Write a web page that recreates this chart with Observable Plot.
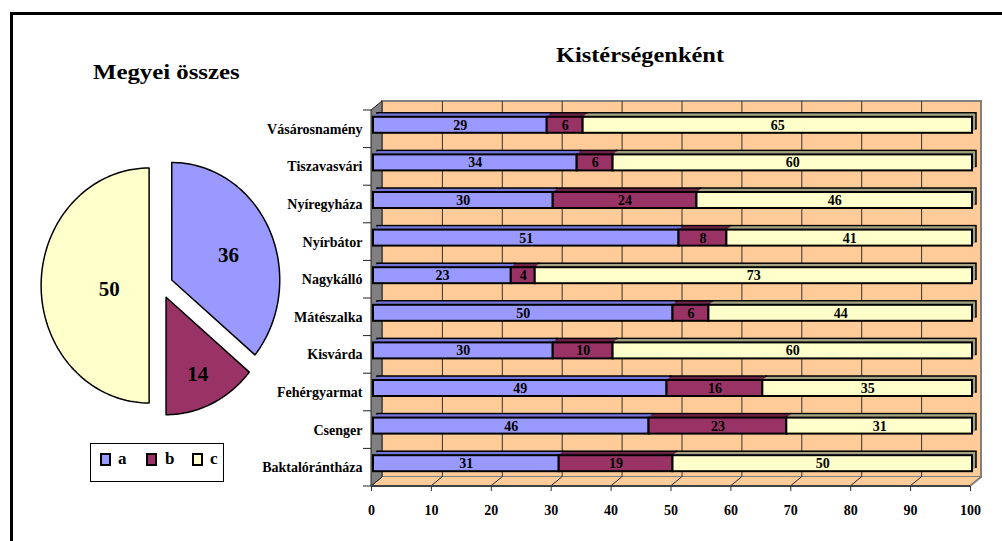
<!DOCTYPE html>
<html>
<head>
<meta charset="utf-8">
<script src="https://cdn.jsdelivr.net/npm/d3@7"></script>
<script src="https://cdn.jsdelivr.net/npm/@observablehq/plot@0.6"></script>
<style>
html, body { margin: 0; padding: 0; background: #fff; }
#root { position: relative; width: 1002px; height: 541px; overflow: hidden; background: #fff;
  font-family: "Liberation Serif", "Times New Roman", serif; color: #000; }
.abs { position: absolute; }
.title { font-weight: bold; font-size: 20px; line-height: 20px; white-space: nowrap; }
.sw { position: absolute; width: 7px; height: 9px; border: 2px solid #000; }
.lt { position: absolute; font-weight: bold; font-size: 17px; line-height: 17px; }
</style>
</head>
<body>
<div id="root"></div>
<script>
// ---------------- data ----------------
const categories = ["Vásárosnamény", "Tiszavasvári", "Nyíregyháza", "Nyírbátor", "Nagykálló",
  "Mátészalka", "Kisvárda", "Fehérgyarmat", "Csenger", "Baktalórántháza"];
const seriesKeys = ["a", "b", "c"];
const valuesA = [29, 34, 30, 51, 23, 50, 30, 49, 46, 31];
const valuesB = [6, 6, 24, 8, 4, 6, 10, 16, 23, 19];
const valuesC = [65, 60, 46, 41, 73, 44, 60, 35, 31, 50];
const pieValues = [36, 14, 50];
const xTicks = [0, 10, 20, 30, 40, 50, 60, 70, 80, 90, 100];
const titlePie = "Megyei összes";
const titleBars = "Kistérségenként";

// ---------------- styles ----------------
const colors = {a: "#9999FF", b: "#993366", c: "#FFFFCC"};
const shades = {a: "#7474D8", b: "#6A2448", c: "#A3A384"};
const FONT = "Liberation Serif, Times New Roman, serif";

const root = document.getElementById("root");

// outer frame
const frameDiv = document.createElement("div");
frameDiv.className = "abs";
Object.assign(frameDiv.style, {left: "10px", top: "12px", width: "1100px", height: "700px",
  border: "3px solid #000", boxSizing: "border-box"});
root.appendChild(frameDiv);

// ---------------- bar chart ----------------
const series = {a: valuesA, b: valuesB, c: valuesC};
const rows = [];
categories.forEach((cat, i) => {
  let acc = 0;
  for (const k of seriesKeys) {
    const v = series[k][i];
    rows.push({cat, key: k, value: v, x1: acc, x2: acc + v});
    acc += v;
  }
});

const DX = 11, DY = -9;       // depth of the 3D box
const BX = 2, BY = -4;        // bars sit a little inside the box
const DEPTH = 4, INSET = 10.8;

function backWall(index, scales, values, dims) {
  const x = scales.x;
  const l = x(0), r = x(100), t = dims.marginTop, b = dims.height - dims.marginBottom;
  return d3.create("svg:rect")
    .attr("x", l + DX).attr("y", t + DY).attr("width", r - l).attr("height", b - t)
    .attr("fill", "#FFCC99").attr("stroke", "#808080").attr("stroke-width", 2).node();
}

function floorAndSide(index, scales, values, dims) {
  const x = scales.x;
  const l = x(0), r = x(100), t = dims.marginTop, b = dims.height - dims.marginBottom;
  const g = d3.create("svg:g");
  g.append("path").attr("d", `M${l},${b}L${r},${b}L${r + DX},${b + DY}L${l + DX},${b + DY}Z`)
    .attr("fill", "#FFCC99");
  for (const v of xTicks) {
    g.append("line").attr("x1", x(v)).attr("y1", b).attr("x2", x(v) + DX).attr("y2", b + DY)
      .attr("stroke", "#222").attr("stroke-width", 1);
  }
  g.append("line").attr("x1", r).attr("y1", b).attr("x2", r + DX).attr("y2", b + DY)
    .attr("stroke", "#808080").attr("stroke-width", 2);
  g.append("path").attr("d", `M${l},${t}L${l + DX},${t + DY}L${l + DX},${b + DY}L${l},${b}Z`)
    .attr("fill", "#808080").attr("stroke", "#222").attr("stroke-width", 1);
  g.append("line").attr("x1", l).attr("y1", b).attr("x2", r).attr("y2", b)
    .attr("stroke", "#404040").attr("stroke-width", 2);
  const n = categories.length;
  for (let i = 0; i <= n; i++) {
    const yy = t + i * (b - t) / n;
    g.append("line").attr("x1", l - 8).attr("y1", yy).attr("x2", l).attr("y2", yy)
      .attr("stroke", "#222").attr("stroke-width", 1);
  }
  return g.node();
}

const barMarks = [];
for (const k of seriesKeys) {
  const r = rows.filter(d => d.key === k);
  for (let o = DEPTH; o >= 1; o--) {
    barMarks.push(Plot.barX(r, {y: "cat", x1: "x1", x2: "x2", fill: shades[k],
      stroke: o === DEPTH ? "#000" : "none", strokeWidth: 1.5,
      dx: BX + o, dy: BY - o, insetTop: INSET, insetBottom: INSET}));
  }
}
for (const k of seriesKeys) {
  barMarks.push(Plot.barX(rows.filter(d => d.key === k), {y: "cat", x1: "x1", x2: "x2",
    fill: colors[k], stroke: "#000", strokeWidth: 2, dx: BX, dy: BY,
    insetTop: INSET, insetBottom: INSET}));
}

const barPlot = Plot.plot({
  width: 1002, height: 541,
  marginLeft: 371, marginRight: 32, marginTop: 110, marginBottom: 55,
  x: {domain: [0, 100]},
  y: {domain: categories, padding: 0, round: false},
  style: {background: "transparent", overflow: "visible", fontFamily: FONT, fontSize: "14px",
    fontWeight: "bold", color: "#000"},
  marks: [
    backWall,
    Plot.ruleX(xTicks.slice(1, -1), {stroke: "#333", strokeWidth: 1, dx: DX, dy: DY}),
    floorAndSide,
    ...barMarks,
    Plot.text(rows, {x: d => (d.x1 + d.x2) / 2, y: "cat", text: d => String(d.value),
      dx: BX, dy: BY, fontWeight: "bold", fontSize: 14}),
    Plot.axisX({ticks: xTicks, tickSize: 5, tickPadding: 14, stroke: "#333", label: null,
      tickFormat: d => String(d), fontSize: 14, fontWeight: "bold"}),
    Plot.axisY({tickSize: 0, tickPadding: 9, label: null, fontSize: 14, fontWeight: "bold"})
  ]
});
const barWrap = document.createElement("div");
barWrap.className = "abs";
Object.assign(barWrap.style, {left: "0px", top: "0px", width: "1002px", height: "541px"});
barWrap.appendChild(barPlot);
root.appendChild(barWrap);

// ---------------- pie chart ----------------
const cx = 160.5, cy = 285, rx = 108, ry = 117.5;
const EXPLODE = 0.11;
const labelR = {a: 0.58, b: 0.69, c: 0.37};
const total = d3.sum(pieValues);
let cum = 0;
const slices = pieValues.map((v, i) => {
  const a0 = cum / total * 2 * Math.PI;
  cum += v;
  const a1 = cum / total * 2 * Math.PI;
  const mid = (a0 + a1) / 2;
  return {key: seriesKeys[i], value: v, a0, a1, mid,
    ox: EXPLODE * Math.sin(mid), oy: EXPLODE * Math.cos(mid)};
});
const pieMarks = slices.map(s => {
  const pts = [{x: s.ox, y: s.oy}];
  const N = 90;
  for (let k = 0; k <= N; k++) {
    const th = s.a0 + (s.a1 - s.a0) * k / N;
    pts.push({x: s.ox + Math.sin(th), y: s.oy + Math.cos(th)});
  }
  return Plot.line(pts, {x: "x", y: "y", fill: colors[s.key], stroke: "#000",
    strokeWidth: 1.5, curve: "linear-closed"});
});
const pieLabels = slices.map(s => ({
  x: s.ox + labelR[s.key] * Math.sin(s.mid),
  y: s.oy + labelR[s.key] * Math.cos(s.mid),
  text: String(s.value)}));
const piePlot = Plot.plot({
  width: 300, height: 541, margin: 0,
  x: {domain: [-1, 1], range: [cx - rx, cx + rx], axis: null},
  y: {domain: [-1, 1], range: [cy + ry, cy - ry], axis: null},
  style: {background: "transparent", overflow: "visible", fontFamily: FONT},
  marks: [
    ...pieMarks,
    Plot.text(pieLabels, {x: "x", y: "y", text: "text", fontSize: 21, fontWeight: "bold",
      fontFamily: FONT, fill: "#000", dy: 4})
  ]
});
const pieWrap = document.createElement("div");
pieWrap.className = "abs";
Object.assign(pieWrap.style, {left: "0px", top: "0px", width: "300px", height: "541px"});
pieWrap.appendChild(piePlot);
root.appendChild(pieWrap);

// ---------------- titles ----------------
const t1 = document.createElement("div");
t1.className = "abs title";
t1.textContent = titlePie;
Object.assign(t1.style, {left: "93px", top: "62px", transform: "scaleX(1.24)", transformOrigin: "0 0"});
root.appendChild(t1);

const t2 = document.createElement("div");
t2.className = "abs title";
t2.textContent = titleBars;
Object.assign(t2.style, {left: "640px", top: "45px", transform: "translateX(-50%) scaleX(1.22)",
  transformOrigin: "50% 0"});
root.appendChild(t2);

// ---------------- legend ----------------
const leg = document.createElement("div");
leg.className = "abs";
Object.assign(leg.style, {left: "90px", top: "443px", width: "134px", height: "39px",
  border: "1px solid #000", boxSizing: "border-box", background: "#fff"});
const legPos = [[9, 27], [55, 74], [101, 119]];
seriesKeys.forEach((k, i) => {
  const sw = document.createElement("div");
  sw.className = "sw";
  Object.assign(sw.style, {left: legPos[i][0] + "px", top: "9px", background: colors[k]});
  leg.appendChild(sw);
  const lt = document.createElement("div");
  lt.className = "lt";
  lt.textContent = k;
  Object.assign(lt.style, {left: legPos[i][1] + "px", top: "6px"});
  leg.appendChild(lt);
});
root.appendChild(leg);
</script>
</body>
</html>
